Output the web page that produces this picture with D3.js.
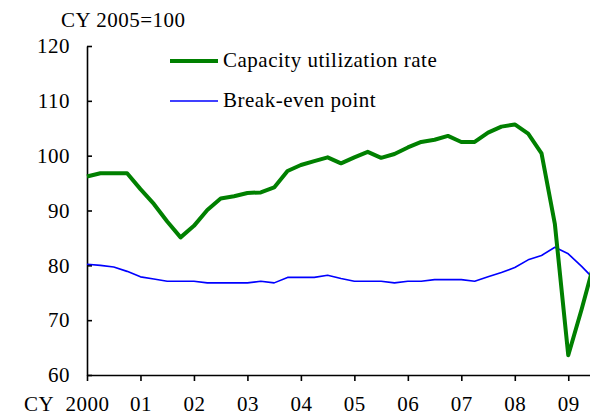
<!DOCTYPE html>
<html>
<head>
<meta charset="utf-8">
<script src="https://cdn.jsdelivr.net/npm/d3@7"></script>
<style>
  body { margin: 0; background: #fff; }
</style>
</head>
<body>
<div id="chart"></div>
<script>
// quarterly data, CY2000 Q1 .. CY2009 Q3 (CY 2005=100)
var startYear = 2000;
var capacityRate = [96.2, 96.8, 96.8, 96.8, 93.9, 91.2, 88.0, 85.1,
                    87.2, 90.1, 92.2, 92.6, 93.2, 93.3, 94.2, 97.2,
                    98.3, 99.0, 99.7, 98.6, 99.7, 100.7, 99.6, 100.3,
                    101.5, 102.5, 102.9, 103.6, 102.5, 102.5, 104.2, 105.3,
                    105.7, 104.0, 100.4, 87.5, 63.6, 72.0, 81.0];
var breakEven = [80.2, 80.0, 79.7, 78.9, 77.9, 77.5, 77.1, 77.1,
                 77.1, 76.8, 76.8, 76.8, 76.8, 77.1, 76.8, 77.8,
                 77.8, 77.8, 78.2, 77.6, 77.1, 77.1, 77.1, 76.8,
                 77.1, 77.1, 77.4, 77.4, 77.4, 77.1, 77.9, 78.7,
                 79.6, 81.0, 81.8, 83.3, 82.1, 79.8, 77.3];
var yTicks = [60, 70, 80, 90, 100, 110, 120];
var xTicks = [2000, 2001, 2002, 2003, 2004, 2005, 2006, 2007, 2008, 2009];
var xTickLabels = ["2000", "01", "02", "03", "04", "05", "06", "07", "08", "09"];
var seriesNames = ["Capacity utilization rate", "Break-even point"];
var seriesColors = ["#008000", "#0000ff"];

var width = 590, height = 416;
var fontFamily = "'Liberation Serif', 'Times New Roman', serif";
var fontSize = "21px";
var letterSp = "0.5px";

var svg = d3.select("#chart").append("svg")
    .attr("width", width)
    .attr("height", height);

var x = d3.scaleLinear().domain([2000, 2009.5]).range([87, 595]);
var y = d3.scaleLinear().domain([60, 120]).range([375, 46]);

function toPoints(vals) {
  return vals.map(function(v, i) { return {t: startYear + i / 4, v: v}; });
}

var line = d3.line()
    .x(function(d) { return x(d.t); })
    .y(function(d) { return y(d.v); });

// y axis, ticks pointing inward
svg.append("g")
    .attr("transform", "translate(" + x(2000) + ",0)")
    .call(d3.axisLeft(y).tickValues(yTicks).tickSize(-5).tickSizeOuter(0).tickPadding(17));

// x axis, ticks pointing down
svg.append("g")
    .attr("transform", "translate(0," + y(60) + ")")
    .call(d3.axisBottom(x).tickValues(xTicks)
      .tickFormat(function(d, i) { return xTickLabels[i]; })
      .tickSize(6).tickSizeOuter(0).tickPadding(15));

svg.selectAll(".domain, .tick line")
    .style("stroke", "#000")
    .style("stroke-width", 1.6);

// series lines
svg.append("path")
    .datum(toPoints(breakEven))
    .attr("fill", "none")
    .attr("stroke", seriesColors[1])
    .attr("stroke-width", 1.6)
    .attr("stroke-linejoin", "round")
    .attr("d", line);

svg.append("path")
    .datum(toPoints(capacityRate))
    .attr("fill", "none")
    .attr("stroke", seriesColors[0])
    .attr("stroke-width", 4)
    .attr("stroke-linejoin", "round")
    .attr("d", line);

// unit label and "CY" prefix
svg.append("text")
    .attr("x", 61)
    .attr("y", 27)
    .text("CY 2005=100");

svg.append("text")
    .attr("x", 24)
    .attr("y", 411)
    .text("CY");

// legend
var legend = svg.append("g");
var legendY = [61, 101];
var legendW = [4, 1.6];
seriesNames.forEach(function(name, i) {
  legend.append("line")
      .attr("x1", 170).attr("x2", 218)
      .attr("y1", legendY[i]).attr("y2", legendY[i])
      .attr("stroke", seriesColors[i])
      .attr("stroke-width", legendW[i]);
  legend.append("text")
      .attr("x", 223)
      .attr("y", legendY[i] + 6)
      .text(name);
});

svg.selectAll("text")
    .style("font-family", fontFamily)
    .style("font-size", fontSize)
    .style("letter-spacing", letterSp)
    .style("fill", "#000");
</script>
</body>
</html>
